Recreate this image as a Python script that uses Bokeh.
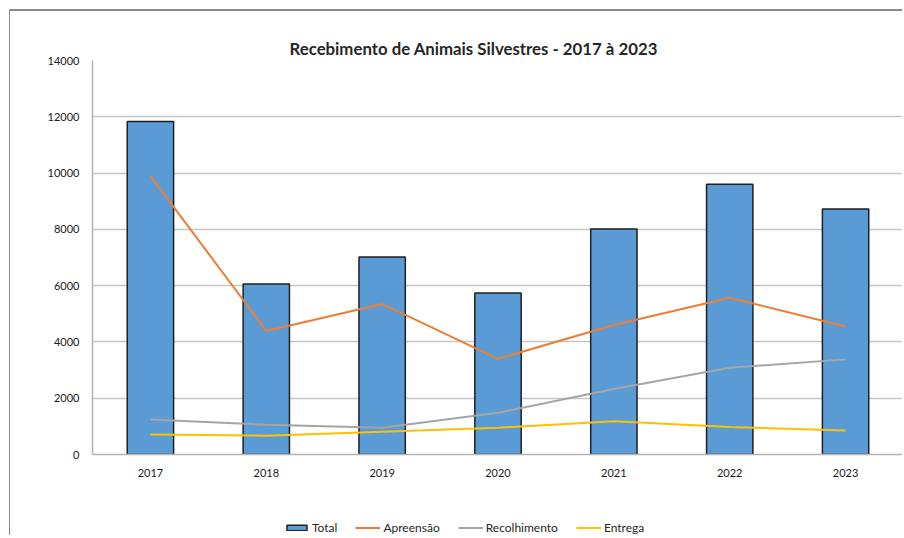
from bokeh.plotting import figure
from bokeh.layouts import column
from bokeh.models import Range1d, FixedTicker, Legend, LegendItem, ColumnDataSource
from bokeh.embed import file_html
from bokeh.resources import INLINE

years = ["2017", "2018", "2019", "2020", "2021", "2022", "2023"]
total = [11830, 6060, 7020, 5740, 8010, 9600, 8720]
apreensao = [9900, 4390, 5350, 3400, 4600, 5570, 4550]
recolhimento = [1240, 1060, 950, 1480, 2330, 3080, 3380]
entrega = [710, 670, 810, 950, 1180, 980, 850]
y_ticks = [0, 2000, 4000, 6000, 8000, 10000, 12000, 14000]
title_text = "Recebimento de Animais Silvestres - 2017 à 2023"
series_labels = ["Total", "Apreensão", "Recolhimento", "Entrega"]

FONT = "Lato"
BAR_FILL = "#5b9bd5"
BAR_LINE = "#1f1f1f"
LINE_COLORS = ["#ed7d31", "#a5a5a5", "#ffc000"]
LINE_COLS = ["apreensao", "recolhimento", "entrega"]
FRAME_COLOR = "#8c8c8c"

src = ColumnDataSource(dict(years=years, total=total, apreensao=apreensao,
                            recolhimento=recolhimento, entrega=entrega))

# ---------------- main chart ----------------
p = figure(x_range=years, y_range=Range1d(0, 14000), width=893, height=473,
           output_backend="svg", toolbar_location=None,
           min_border_left=82, min_border_right=0, min_border_top=49, min_border_bottom=30)
p.styles = {"border-top": f"2px solid {FRAME_COLOR}", "border-left": f"1px solid {FRAME_COLOR}"}
p.outline_line_color = None
p.background_fill_color = "white"
p.border_fill_color = "white"

p.vbar(x="years", top="total", width=0.4, source=src,
       fill_color=BAR_FILL, line_color=BAR_LINE, line_width=1.5)
for col, c in zip(LINE_COLS, LINE_COLORS):
    p.line(x="years", y=col, source=src, line_color=c, line_width=2)

p.xgrid.grid_line_color = None
p.ygrid.grid_line_color = "#c6c6c6"
p.ygrid.grid_line_width = 1.5
p.yaxis.ticker = FixedTicker(ticks=y_ticks)

for ax in (p.xaxis, p.yaxis):
    ax.major_tick_line_color = None
    ax.minor_tick_line_color = None
    ax.major_tick_out = 0
    ax.major_tick_in = 0
    ax.minor_tick_out = 0
    ax.major_label_text_font = FONT
    ax.major_label_text_font_size = "11px"
    ax.major_label_text_color = "#1a1a1a"
    ax.axis_line_color = "#b4b4b4"
    ax.axis_line_width = 1.5
p.xaxis.major_label_standoff = 14
p.yaxis.major_label_standoff = 13

p.title.text = title_text
p.title.align = "left"
p.title.offset = 197
p.title.text_font = FONT
p.title.text_font_style = "bold"
p.title.text_font_size = "16.8px"
p.title.text_color = "#262626"
p.title.standoff = 4

# ---------------- legend strip ----------------
# hidden copies of the series: only their legend entries are shown
lg = figure(x_range=years, y_range=Range1d(-2, -1), width=893, height=53,
            output_backend="svg", toolbar_location=None,
            x_axis_location=None, y_axis_location=None, min_border=0)
lg.styles = {"border-left": f"1px solid {FRAME_COLOR}"}
lg.outline_line_color = None
lg.grid.visible = False

r_bar = lg.vbar(x="years", top="total", width=0.4, source=src,
                fill_color=BAR_FILL, line_color=BAR_LINE, line_width=1.5)
r_lines = [lg.line(x="years", y=col, source=src, line_color=c, line_width=2)
           for col, c in zip(LINE_COLS, LINE_COLORS)]
for r in [r_bar] + r_lines:
    r.visible = False

legend = Legend(items=[LegendItem(label=lab, renderers=[r])
                       for lab, r in zip(series_labels, [r_bar] + r_lines)],
                orientation="horizontal", location=(192, 0))
legend.label_text_font = FONT
legend.label_text_font_size = "12px"
legend.label_text_color = "#262626"
legend.glyph_width = 25
legend.glyph_height = 7
legend.label_height = 14
legend.label_standoff = 3
legend.spacing = 18
legend.padding = 0
legend.margin = 0
legend.border_line_color = None
legend.background_fill_alpha = 0
legend.inactive_fill_alpha = 0
lg.add_layout(legend, "center")

layout = column(p, lg, spacing=0)
layout.margin = (9, 0, 0, 9)

open("out.html", "w").write(file_html(layout, INLINE))
